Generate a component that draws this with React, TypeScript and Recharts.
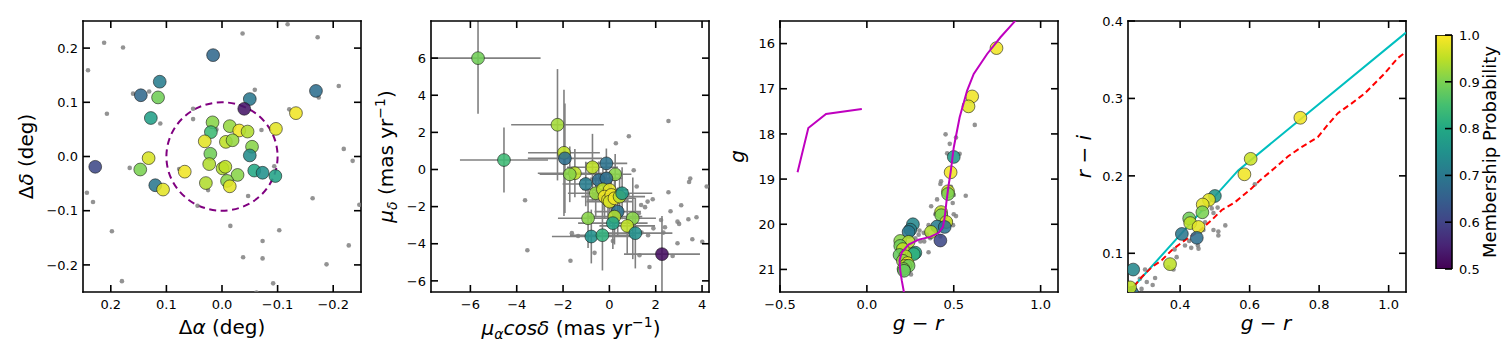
import React from "react";
import {
  ScatterChart,
  Scatter,
  XAxis,
  YAxis,
  ErrorBar,
  ReferenceArea,
  BarChart,
  Bar,
} from "recharts";

// ---- data ----

// panel 1: sky positions (dRA deg, dDec deg, membership prob)
const skyMembers: number[][] = [
  [0.016, 0.187, 0.67], [0.112, 0.138, 0.71], [0.146, 0.113, 0.67], [0.115, 0.109, 0.89],
  [0.128, 0.071, 0.78], [-0.05, 0.106, 0.7], [-0.04, 0.088, 0.53], [-0.169, 0.121, 0.68],
  [-0.133, 0.08, 0.99], [-0.097, 0.051, 0.98], [0.017, 0.063, 0.91], [0.02, 0.045, 0.84],
  [-0.014, 0.056, 0.92], [-0.031, 0.048, 0.99], [-0.046, 0.046, 0.94], [0.031, 0.028, 0.98],
  [-0.007, 0.027, 0.95], [-0.019, 0.03, 0.92], [-0.054, 0.018, 0.91], [-0.05, 0.002, 0.74],
  [0.021, 0.005, 0.89], [0.228, -0.019, 0.61], [0.132, -0.003, 0.97], [0.147, -0.024, 0.9],
  [0.067, -0.028, 0.99], [0.023, -0.014, 0.94], [-0.001, -0.022, 0.94], [-0.006, -0.019, 0.95],
  [-0.028, -0.034, 0.91], [-0.058, -0.026, 0.8], [-0.073, -0.03, 0.75], [-0.096, -0.036, 0.79],
  [0.12, -0.053, 0.7], [0.106, -0.061, 0.98], [0.029, -0.049, 0.94], [-0.009, -0.045, 0.91],
  [-0.014, -0.055, 0.98],
];
const skyField: number[][] = [
  [0.212, 0.21], [0.178, 0.201], [0.241, 0.159], [-0.037, 0.227], [-0.118, 0.244],
  [-0.172, 0.22], [-0.21, 0.13], [-0.174, 0.109], [0.16, 0.116], [0.131, 0.12],
  [-0.059, 0.123], [0.207, 0.079], [0.111, 0.061], [0.052, 0.088], [0.052, 0.069],
  [0.01, 0.05], [-0.071, 0.049], [-0.121, 0.087], [-0.219, 0.014], [-0.235, -0.008],
  [0.166, -0.021], [0.077, -0.023], [-0.094, -0.018], [0.243, -0.067], [0.232, -0.084],
  [0.025, -0.062], [0.044, -0.091], [-0.047, -0.073], [-0.163, -0.077], [-0.247, -0.089],
  [0.198, -0.138], [-0.015, -0.128], [-0.103, -0.136], [-0.073, -0.156], [-0.228, -0.164],
  [-0.038, -0.186], [-0.073, -0.188], [-0.188, -0.199], [0.18, -0.23], [-0.092, -0.234],
  [-0.062, -0.251],
];
const searchRadius = 0.1;

// panel 2: proper motions (pmra, pmdec, xerr, yerr, prob)
const pmMembers: number[][] = [
  [-5.67, 6.0, 2.7, 3.0, 0.89], [-2.24, 2.41, 2.0, 3.0, 0.93], [-4.55, 0.51, 1.9, 1.75, 0.84],
  [-1.96, 0.9, 1.55, 3.4, 0.95], [-1.92, 0.6, 1.6, 2.95, 0.68], [-0.13, 0.33, 0.9, 0.8, 0.69],
  [-0.73, 0.12, 1.1, 1.8, 0.95], [-1.49, -0.2, 1.6, 1.3, 0.95], [-1.71, -0.26, 1.3, 1.5, 0.91],
  [0.25, -0.26, 0.7, 1.1, 0.91], [-1.02, -0.78, 1.0, 1.2, 0.71], [-0.46, -0.57, 0.8, 1.0, 0.68],
  [-0.13, -0.48, 0.7, 0.9, 0.68], [-0.59, -1.28, 1.2, 1.3, 0.92], [-0.28, -1.07, 0.9, 1.1, 0.95],
  [0.01, -1.1, 0.8, 1.0, 0.98], [-0.21, -1.46, 1.0, 1.2, 0.99], [-0.06, -1.64, 0.9, 1.1, 0.98],
  [0.08, -1.37, 0.8, 0.9, 0.99], [0.01, -1.73, 1.0, 1.3, 0.97], [0.22, -1.55, 0.9, 1.0, 0.99],
  [0.44, -1.46, 1.1, 1.2, 0.95], [0.55, -1.28, 1.3, 1.4, 0.77], [0.36, -2.27, 1.0, 1.3, 0.69],
  [0.22, -2.54, 1.2, 1.5, 0.94], [-0.92, -2.63, 1.3, 1.6, 0.91], [0.15, -2.89, 1.5, 1.4, 0.79],
  [1.01, -2.63, 1.0, 2.2, 0.91], [0.77, -3.04, 1.2, 1.5, 0.95], [1.12, -3.43, 1.6, 1.9, 0.75],
  [-0.78, -3.61, 1.7, 1.45, 0.75], [-0.3, -3.54, 1.4, 1.9, 0.82], [2.27, -4.56, 1.64, 2.05, 0.52],
];
const pmField: number[][] = [
  [2.55, 2.61], [0.84, 1.79], [0.28, 1.41], [1.05, -0.04], [3.49, -0.49], [3.44, -0.67],
  [4.2, -0.92], [1.18, -0.92], [2.55, -1.23], [1.87, -1.6], [1.65, -1.73], [1.37, -1.91],
  [1.54, -2.03], [3.1, -1.93], [2.64, -2.25], [1.27, -2.36], [3.76, -2.57], [3.41, -2.68],
  [2.94, -2.81], [3.01, -2.93], [2.23, -2.72], [2.4, -3.11], [1.9, -3.17], [2.33, -3.4],
  [1.67, -3.54], [1.39, -3.4], [2.94, -3.97], [3.58, -3.76], [4.01, -3.89], [0.15, -3.85],
  [-1.62, -3.43], [-1.35, -3.58], [-3.64, -1.66], [-3.54, -4.35], [-1.68, -4.92],
  [-0.64, -4.49], [1.73, -5.25], [2.73, -4.66], [1.3, -4.62],
];
const pmXDomain = [-7.7, 4.3];
const pmYDomain = [-6.6, 8.0];

// panel 3: CMD (g-r, g, prob)
const cmdMembers: number[][] = [
  [0.746, 16.1, 0.99], [0.606, 17.17, 0.99], [0.585, 17.39, 0.98], [0.5, 18.51, 0.77],
  [0.482, 18.85, 0.99], [0.467, 19.27, 0.96], [0.467, 19.33, 0.9], [0.427, 19.73, 0.95],
  [0.428, 19.8, 0.9], [0.457, 19.95, 0.96], [0.404, 20.05, 0.71], [0.448, 20.06, 0.69],
  [0.369, 20.17, 0.94], [0.423, 20.36, 0.61], [0.265, 20.0, 0.73], [0.25, 20.12, 0.72],
  [0.24, 20.17, 0.7], [0.192, 20.37, 0.91], [0.24, 20.39, 0.94], [0.192, 20.48, 0.89],
  [0.207, 20.55, 0.95], [0.279, 20.63, 0.78], [0.27, 20.66, 0.82], [0.188, 20.68, 0.88],
  [0.221, 20.71, 0.94], [0.207, 20.81, 0.92], [0.234, 20.86, 0.98], [0.221, 20.92, 0.95],
  [0.24, 20.92, 0.89], [0.211, 20.99, 0.91], [0.214, 21.03, 0.88],
];
const cmdField: number[][] = [
  [0.453, 18.01], [0.513, 18.08], [0.477, 18.22], [0.621, 17.8], [0.462, 18.43], [0.534, 18.44],
  [0.427, 19.05], [0.423, 19.11], [0.484, 19.17], [0.5, 19.35], [0.569, 19.37], [0.404, 19.45],
  [0.494, 19.53], [0.37, 19.6], [0.394, 19.78], [0.5, 19.78], [0.513, 19.82], [0.481, 19.93],
  [0.496, 20.02], [0.355, 20.02], [0.303, 20.14], [0.327, 20.19], [0.298, 20.23], [0.279, 20.31],
  [0.308, 20.38], [0.346, 20.23], [0.365, 20.31], [0.355, 20.62], [0.254, 21.11], [0.423, 20.27],
  [0.384, 20.1], [0.33, 20.38],
];
const isoRgb: number[][] = [
  [0.216, 21.6], [0.213, 21.5], [0.201, 21.25], [0.192, 21.02], [0.188, 20.8], [0.201, 20.62],
  [0.24, 20.45], [0.298, 20.34], [0.365, 20.28], [0.413, 20.19], [0.438, 20.06], [0.448, 19.84],
  [0.457, 19.54], [0.469, 19.17], [0.482, 18.85], [0.5, 18.3], [0.534, 17.63], [0.577, 17.04],
  [0.615, 16.67], [0.692, 16.23], [0.769, 15.86], [0.846, 15.53], [0.87, 15.43],
];
const isoHb: number[][] = [[-0.399, 18.85], [-0.337, 17.87], [-0.235, 17.56], [-0.029, 17.45]];

// panel 4: colour-colour (g-r, r-i, prob)
const ccMembers: number[][] = [
  [0.746, 0.275, 0.99], [0.603, 0.222, 0.96], [0.585, 0.202, 0.99], [0.5, 0.174, 0.76],
  [0.483, 0.169, 0.98], [0.465, 0.163, 0.98], [0.464, 0.153, 0.9], [0.426, 0.145, 0.89],
  [0.429, 0.139, 0.95], [0.453, 0.134, 0.98], [0.405, 0.125, 0.7], [0.448, 0.12, 0.68],
  [0.371, 0.086, 0.95], [0.265, 0.079, 0.73], [0.262, 0.049, 0.68], [0.256, 0.056, 0.95],
];
const ccField: number[][] = [
  [0.299, 0.079], [0.284, 0.067], [0.304, 0.063], [0.321, 0.059], [0.328, 0.068], [0.289, 0.054],
  [0.384, 0.105], [0.39, 0.095], [0.381, 0.079], [0.366, 0.082], [0.432, 0.107], [0.451, 0.11],
  [0.453, 0.106], [0.426, 0.116], [0.467, 0.13], [0.472, 0.14], [0.496, 0.13], [0.51, 0.128],
  [0.51, 0.123], [0.53, 0.136], [0.496, 0.152], [0.508, 0.159], [0.491, 0.158], [0.615, 0.189],
  [0.414, 0.11],
];
const stellarLocus: number[][] = [[0.25, 0.049], [0.567, 0.207], [1.05, 0.385]];
const isoColour: number[][] = [
  [0.25, 0.048], [0.261, 0.054], [0.289, 0.069], [0.318, 0.082], [0.347, 0.091], [0.376, 0.104],
  [0.414, 0.117], [0.453, 0.128], [0.491, 0.143], [0.52, 0.156], [0.558, 0.166], [0.606, 0.184],
  [0.629, 0.194], [0.672, 0.21], [0.71, 0.225], [0.749, 0.237], [0.796, 0.25], [0.825, 0.266],
  [0.854, 0.281], [0.892, 0.293], [0.93, 0.306], [0.959, 0.319], [0.988, 0.332], [1.026, 0.352],
  [1.05, 0.36],
];

const cbarRange = [{ name: "prob", range: [0.5, 1.0] }];
const cbarTicks = [0.5, 0.6, 0.7, 0.8, 0.9, 1.0];

// ---- styling helpers ----

const VIRIDIS = [
  "#440154", "#482475", "#414487", "#355f8d", "#2a788e", "#21918c",
  "#22a884", "#44bf70", "#7ad151", "#bddf26", "#fde725",
];
const hex = (h: string) => [1, 3, 5].map((i) => parseInt(h.slice(i, i + 2), 16));
function viridis(p: number) {
  const t = Math.min(1, Math.max(0, (p - 0.5) / 0.5)) * (VIRIDIS.length - 1);
  const i = Math.min(VIRIDIS.length - 2, Math.floor(t));
  const f = t - i;
  const a = hex(VIRIDIS[i]);
  const b = hex(VIRIDIS[i + 1]);
  return `rgb(${a.map((v, k) => Math.round(v + (b[k] - v) * f)).join(",")})`;
}

const FONT = "'DejaVu Sans', 'Liberation Sans', sans-serif";
const TICK_LEN = 7;
const LW = 1.6;
const PW = 278;
const PT = 21;
const PB = 292;

const fmt1 = (v: number) => v.toFixed(1).replace("-", "\u2212");
const fmt0 = (v: number) => String(v).replace("-", "\u2212");

const toXY = (rows: number[][]) => rows.map((r) => ({ x: r[0], y: r[1], p: r[2] }));

// error bar cut at the axes edge, like matplotlib's clipping
const cut = (v: number, e: number, dom: number[]) => [Math.min(e, v - dom[0]), Math.min(e, dom[1] - v)];

function makeTick(side: "bottom" | "left" | "top" | "right", fmt?: (v: number) => string) {
  return (props: any) => {
    const { x, y, payload } = props;
    const v = payload.value as number;
    let line;
    let label = null;
    if (side === "bottom") {
      line = <line x1={x} x2={x} y1={y} y2={y - TICK_LEN} />;
      if (fmt) label = <text x={x} y={y + 17} textAnchor="middle">{fmt(v)}</text>;
    } else if (side === "top") {
      line = <line x1={x} x2={x} y1={y} y2={y + TICK_LEN} />;
    } else if (side === "left") {
      line = <line x1={x} x2={x + TICK_LEN} y1={y} y2={y} />;
      if (fmt) label = <text x={x - 5} y={y + 4.7} textAnchor="end">{fmt(v)}</text>;
    } else {
      line = <line x1={x} x2={x - TICK_LEN} y1={y} y2={y} />;
      if (fmt) label = <text x={x + 7} y={y + 4.7} textAnchor="start">{fmt(v)}</text>;
    }
    return (
      <g stroke="#000" strokeWidth={LW}>
        {line}
        {label && (
          <g stroke="none" fill="#000" fontFamily={FONT} fontSize={13}>
            {label}
          </g>
        )}
      </g>
    );
  };
}

interface FrameOpts {
  xDomain: number[];
  yDomain: number[];
  xTicks: number[];
  yTicks: number[];
  xFmt: (v: number) => string;
  yFmt: (v: number) => string;
  xRev?: boolean;
  yRev?: boolean;
}

const axisLine = { stroke: "#000", strokeWidth: LW, strokeLinecap: "square" as const };

function frame(o: FrameOpts) {
  const common = { type: "number" as const, allowDataOverflow: true, tickLine: false, tickSize: 0, tickMargin: 0, interval: 0 as const, axisLine };
  return [
    <XAxis key="xb" dataKey="x" domain={o.xDomain} ticks={o.xTicks} reversed={o.xRev} height={1} tick={makeTick("bottom", o.xFmt)} {...common} />,
    <XAxis key="xt" xAxisId="t" orientation="top" dataKey="x" domain={o.xDomain} ticks={o.xTicks} reversed={o.xRev} height={1} tick={makeTick("top")} {...common} />,
    <YAxis key="yl" dataKey="y" domain={o.yDomain} ticks={o.yTicks} reversed={o.yRev} width={1} tick={makeTick("left", o.yFmt)} {...common} />,
    <YAxis key="yr" yAxisId="r" orientation="right" dataKey="y" domain={o.yDomain} ticks={o.yTicks} reversed={o.yRev} width={1} tick={makeTick("right")} {...common} />,
  ];
}

const memberShape = (props: any) => (
  <circle cx={props.cx} cy={props.cy} r={6.4} fill={viridis(props.payload.p)} fillOpacity={0.88} stroke="#1a1a1a" strokeOpacity={0.85} strokeWidth={0.7} />
);
const fieldShape = (props: any) => (
  <circle cx={props.cx} cy={props.cy} r={2.3} fill="#808080" fillOpacity={0.85} />
);
const noShape = () => <g />;

const ellipseShape = (props: any) => (
  <ellipse
    cx={props.x + props.width / 2}
    cy={props.y + props.height / 2}
    rx={Math.abs(props.width) / 2}
    ry={Math.abs(props.height) / 2}
    fill="none"
    stroke="#800080"
    strokeWidth={2}
    strokeDasharray="7 4.5"
  />
);

function Panel({ left, children }: { left: number; children: React.ReactNode }) {
  // axes take 1px each, so the margin is one less than the plot offset
  return (
    <div style={{ position: "absolute", left: left - 80, top: 0 }}>
      <ScatterChart width={PW + 120} height={360} margin={{ top: PT - 1, right: 39, bottom: 360 - PB - 1, left: 79 }}>
        {children}
      </ScatterChart>
    </div>
  );
}

export default function App() {
  const title = { fontFamily: FONT, fontSize: 20, fill: "#000" };
  return (
    <div style={{ position: "absolute", left: 0, top: 0, width: 1512, height: 360, background: "#fff", fontFamily: FONT }}>
      <svg width={0} height={0} style={{ position: "absolute" }}>
        <defs>
          <linearGradient id="viridisGrad" x1="0" y1="1" x2="0" y2="0">
            {VIRIDIS.map((c, i) => (
              <stop key={i} offset={`${i * 10}%`} stopColor={c} />
            ))}
          </linearGradient>
        </defs>
      </svg>

      <Panel left={83}>
        {frame({
          xDomain: [-0.25, 0.25], yDomain: [-0.25, 0.25],
          xTicks: [-0.2, -0.1, 0, 0.1, 0.2], yTicks: [-0.2, -0.1, 0, 0.1, 0.2],
          xFmt: fmt1, yFmt: fmt1, xRev: true,
        })}
        <Scatter data={toXY(skyField)} shape={fieldShape} isAnimationActive={false} />
        <ReferenceArea x1={searchRadius} x2={-searchRadius} y1={-searchRadius} y2={searchRadius} shape={ellipseShape} />
        <Scatter data={toXY(skyMembers)} shape={memberShape} isAnimationActive={false} />
      </Panel>

      <Panel left={431}>
        {frame({
          xDomain: pmXDomain, yDomain: pmYDomain,
          xTicks: [-6, -4, -2, 0, 2, 4], yTicks: [-6, -4, -2, 0, 2, 4, 6],
          xFmt: fmt0, yFmt: fmt0,
        })}
        <Scatter data={toXY(pmField)} shape={fieldShape} isAnimationActive={false} />
        <Scatter
          data={pmMembers.map((r) => ({
            x: r[0], y: r[1], p: r[4],
            xerr: cut(r[0], r[2], pmXDomain), yerr: cut(r[1], r[3], pmYDomain),
          }))}
          shape={memberShape}
          isAnimationActive={false}
        >
          <ErrorBar dataKey="xerr" direction="x" width={0} stroke="#808080" strokeWidth={1.6} />
          <ErrorBar dataKey="yerr" direction="y" width={0} stroke="#808080" strokeWidth={1.6} />
        </Scatter>
      </Panel>

      <Panel left={780}>
        {frame({
          xDomain: [-0.5, 1.1], yDomain: [15.5, 21.5],
          xTicks: [-0.5, 0, 0.5, 1.0], yTicks: [16, 17, 18, 19, 20, 21],
          xFmt: fmt1, yFmt: fmt0, yRev: true,
        })}
        <Scatter data={toXY(cmdField)} shape={fieldShape} isAnimationActive={false} />
        <Scatter data={toXY(cmdMembers)} shape={memberShape} isAnimationActive={false} />
        <Scatter data={toXY(isoRgb)} shape={noShape} line={{ stroke: "#bf00bf", strokeWidth: 2 }} isAnimationActive={false} />
        <Scatter data={toXY(isoHb)} shape={noShape} line={{ stroke: "#bf00bf", strokeWidth: 2 }} isAnimationActive={false} />
      </Panel>

      <Panel left={1128}>
        {frame({
          xDomain: [0.25, 1.05], yDomain: [0.05, 0.4],
          xTicks: [0.4, 0.6, 0.8, 1.0], yTicks: [0.1, 0.2, 0.3, 0.4],
          xFmt: fmt1, yFmt: fmt1,
        })}
        <Scatter data={toXY(ccField)} shape={fieldShape} isAnimationActive={false} />
        <Scatter data={toXY(stellarLocus)} shape={noShape} line={{ stroke: "#00bfbf", strokeWidth: 2 }} isAnimationActive={false} />
        <Scatter data={toXY(isoColour)} shape={noShape} line={{ stroke: "#ff0000", strokeWidth: 2, strokeDasharray: "6 3.5" }} isAnimationActive={false} />
        <Scatter data={toXY(ccMembers)} shape={memberShape} isAnimationActive={false} />
      </Panel>

      {/* colour bar */}
      <div style={{ position: "absolute", left: 1426, top: 0 }}>
        <BarChart width={106} height={360} data={cbarRange} margin={{ top: 35, right: 79, bottom: 91, left: 10 }} barCategoryGap={0}>
          <XAxis dataKey="name" hide />
          <YAxis
            orientation="right"
            type="number"
            domain={[0.5, 1.0]}
            ticks={cbarTicks}
            interval={0}
            width={1}
            tickLine={false}
            tickSize={0}
            tickMargin={0}
            axisLine={false}
            allowDataOverflow
            tick={makeTick("right", fmt1)}
          />
          <Bar dataKey="range" fill="url(#viridisGrad)" stroke="#000" strokeWidth={LW} isAnimationActive={false} />
        </BarChart>
      </div>

      {/* axis titles */}
      <svg width={1512} height={360} style={{ position: "absolute", left: 0, top: 0, pointerEvents: "none" }}>
        <text x={222} y={334} textAnchor="middle" {...title}>
          Δ<tspan fontStyle="italic">α</tspan> (deg)
        </text>
        <text transform="translate(33,156.5) rotate(-90)" textAnchor="middle" {...title}>
          Δ<tspan fontStyle="italic">δ</tspan> (deg)
        </text>
        <text x={571} y={335} textAnchor="middle" {...title}>
          <tspan fontStyle="italic">μ</tspan>
          <tspan fontStyle="italic" fontSize={14} dy={4}>α</tspan>
          <tspan fontStyle="italic" dy={-4}>cosδ</tspan>
          <tspan> (mas yr</tspan>
          <tspan fontSize={14} dy={-8}>−1</tspan>
          <tspan dy={8}>)</tspan>
        </text>
        <text transform="translate(393,156.5) rotate(-90)" textAnchor="middle" {...title}>
          <tspan fontStyle="italic">μ</tspan>
          <tspan fontStyle="italic" fontSize={14} dy={4}>δ</tspan>
          <tspan dy={-4}> (mas yr</tspan>
          <tspan fontSize={14} dy={-8}>−1</tspan>
          <tspan dy={8}>)</tspan>
        </text>
        <text x={918} y={330} textAnchor="middle" {...title}>
          <tspan fontStyle="italic">g</tspan> − <tspan fontStyle="italic">r</tspan>
        </text>
        <text transform="translate(744,156.5) rotate(-90)" textAnchor="middle" {...title}>
          <tspan fontStyle="italic">g</tspan>
        </text>
        <text x={1266} y={330} textAnchor="middle" {...title}>
          <tspan fontStyle="italic">g</tspan> − <tspan fontStyle="italic">r</tspan>
        </text>
        <text transform="translate(1091,156.5) rotate(-90)" textAnchor="middle" {...title}>
          <tspan fontStyle="italic">r</tspan> − <tspan fontStyle="italic">i</tspan>
        </text>
        <text transform="translate(1496,152) rotate(-90)" textAnchor="middle" fontFamily={FONT} fontSize={18} fill="#000">
          Membership Probability
        </text>
      </svg>
    </div>
  );
}
